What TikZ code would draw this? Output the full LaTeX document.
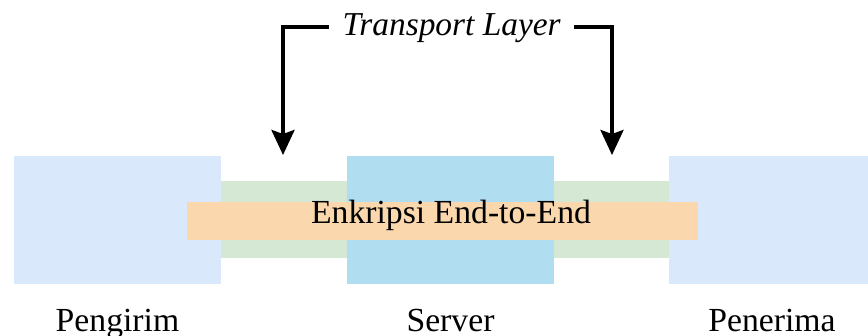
\documentclass[tikz,border=0pt]{standalone}
\usepackage{fontspec}
\setmainfont{Liberation Serif}
\usetikzlibrary{arrows.meta}
\definecolor{hostblue}{HTML}{DAE8FC}
\definecolor{serverblue}{HTML}{B1DDF0}
\definecolor{linkgreen}{HTML}{D5E8D4}
\definecolor{cryptorange}{HTML}{FAD7AC}
\begin{document}
\begin{tikzpicture}[x=1pt,y=-1pt,
  block/.style={draw=none,inner sep=0pt,anchor=north west},
  lbl/.style={inner sep=0pt,anchor=base,font=\fontsize{33.7}{40}\selectfont},
  arr/.style={line width=3.6pt,-{Stealth[length=25pt,width=23pt,inset=4pt]}}]
\useasboundingbox (0,0) rectangle (868,335);
% links between the hosts
\node[block,fill=linkgreen,minimum width=126pt,minimum height=77pt] (lnkA) at (221,181) {};
\node[block,fill=linkgreen,minimum width=115pt,minimum height=77pt] (lnkB) at (554,181) {};
% hosts
\node[block,fill=hostblue,minimum width=207pt,minimum height=128pt] (snd) at (14,155.7) {};
\node[block,fill=serverblue,minimum width=207pt,minimum height=128pt] (srv) at (347,155.7) {};
\node[block,fill=hostblue,minimum width=207pt,minimum height=128pt] (rcv) at (669,155.7) {};
% end-to-end encryption bar
\node[block,fill=cryptorange,minimum width=510.7pt,minimum height=37.7pt] (enc) at (187,202) {};
\node[lbl] (enctext) at (451,223) {Enkripsi End-to-End};
% labels
\node[lbl] (sndl) at (117.5,331.5) {Pengirim};
\node[lbl] (srvl) at (450.5,331.5) {Server};
\node[lbl] (rcvl) at (772,331.5) {Penerima};
% transport layer callout
\node[lbl,font=\fontsize{33.4}{40}\selectfont\itshape,inner xsep=13.5pt] (tl) at (451.7,35) {Transport Layer};
\coordinate (tipA) at (283,155);
\coordinate (tipB) at (612,155);
\draw[arr] ([yshift=8.3pt]tl.base west) -| (tipA);
\draw[arr] ([yshift=8.3pt]tl.base east) -| (tipB);
\end{tikzpicture}
\end{document}
